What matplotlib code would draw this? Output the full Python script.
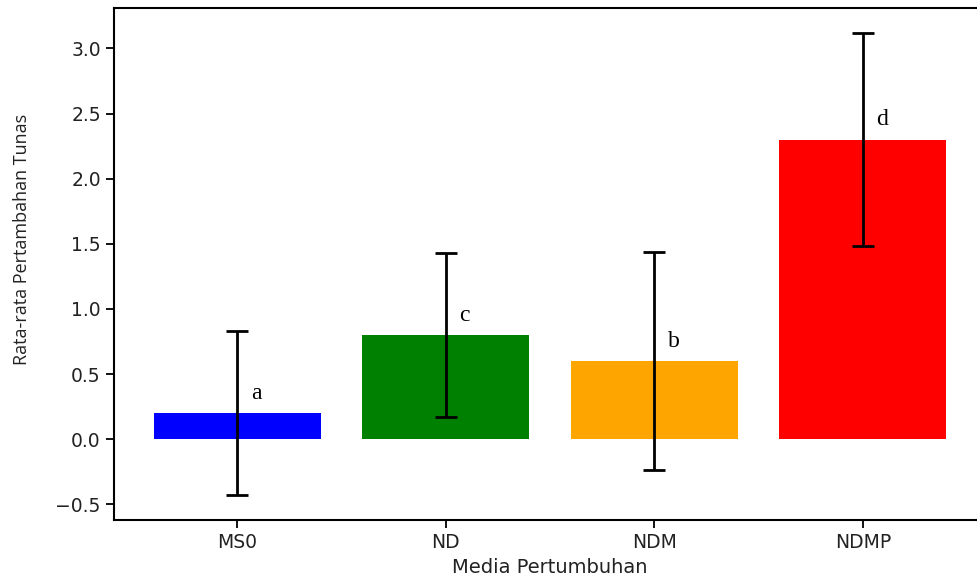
import matplotlib
matplotlib.use("Agg")
import matplotlib.pyplot as plt
import numpy as np

categories = ["MS0", "ND", "NDM", "NDMP"]
means = [0.20, 0.80, 0.60, 2.30]
errors = [0.63, 0.63, 0.84, 0.82]
letters = ["a", "c", "b", "d"]
colors = ["blue", "green", "orange", "red"]

fig = plt.figure(figsize=(9.78, 5.78), dpi=100)
ax = fig.add_axes([114/978, 58/578, (986-114)/978, (520-8)/578])

x = np.arange(len(categories))
ax.bar(x, means, width=0.8, color=colors, yerr=errors, capsize=8,
       error_kw=dict(elinewidth=2.0, capthick=2.0, ecolor="black"))
for xi, m, lt in zip(x, means, letters):
    ax.text(xi + 0.065, m + 0.11, lt, ha="left", va="baseline",
            fontsize=17, family="Liberation Serif")

ax.set_xticks(x)
ax.set_xticklabels(categories)
ax.set_xlim(-0.59, 3.59)
ax.set_ylim(-0.62, 3.31)
ax.set_yticks([-0.5, 0.0, 0.5, 1.0, 1.5, 2.0, 2.5, 3.0])
ax.tick_params(labelsize=13.5, width=1.3, length=6, labelcolor="#222222")
for s in ax.spines.values():
    s.set_linewidth(1.5)
ax.set_xlabel("Media Pertumbuhan", fontsize=14, labelpad=4, color="#222222")
ax.set_ylabel("Rata-rata Pertambahan Tunas", fontsize=13, family="Open Sans", color="#222222")
ax.yaxis.set_label_coords(-0.095, 0.547)

fig.savefig("out.png", dpi=100)
